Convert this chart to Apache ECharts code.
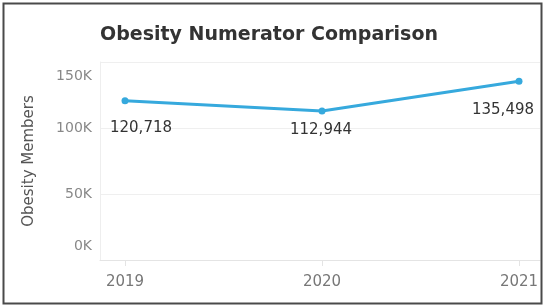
<!DOCTYPE html>
<html>
<head>
<meta charset="utf-8">
<script src="https://cdn.jsdelivr.net/npm/echarts@6/dist/echarts.min.js"></script>
<style>
  html, body { margin: 0; padding: 0; background: #fff; }
  #main { width: 544px; height: 307px; }
</style>
</head>
<body>
<div id="main"></div>
<script>
var years = [2019, 2020, 2021];
var members = [120718, 112944, 135498];
var yTicks = [0, 50000, 100000, 150000];
// label offsets per point, as in the reference
var labelOffsets = [[16, 27], [-1, 19], [-16, 29]];

var chart = echarts.init(document.getElementById('main'));

var seriesData = years.map(function (y, i) {
    return {
        value: [y, members[i]],
        label: { offset: labelOffsets[i] }
    };
});

var option = {
    animation: false,
    textStyle: { fontFamily: 'DejaVu Sans' },
    title: {
        text: 'Obesity Numerator Comparison',
        left: 264,
        top: 21,
        textAlign: 'center',
        textStyle: { fontSize: 19, fontWeight: 'bold', color: '#333', fontFamily: 'DejaVu Sans' }
    },
    graphic: [{
        type: 'rect',
        shape: { x: 3.5, y: 3.5, width: 538, height: 300 },
        style: { fill: 'none', stroke: '#4a4a4a', lineWidth: 2 },
        z: 100
    }],
    grid: { left: 100, right: 4, top: 62, bottom: 47 },
    xAxis: {
        type: 'value',
        min: 2019 - 25 / 197,
        max: 2021 + 21 / 197,
        axisLine: { show: true, onZero: false, lineStyle: { color: '#e4e4e4' } },
        axisTick: { show: true, length: 6, customValues: years, lineStyle: { color: '#e4e4e4' } },
        axisLabel: {
            customValues: years,
            color: '#777',
            fontSize: 15,
            margin: 15,
            formatter: function (v) { return String(v); }
        },
        splitLine: { show: false }
    },
    yAxis: {
        type: 'value',
        min: yTicks[0],
        max: yTicks[yTicks.length - 1],
        interval: 50000,
        name: 'Obesity Members',
        nameLocation: 'middle',
        nameGap: 63,
        nameRotate: 90,
        nameTextStyle: { color: '#555', fontSize: 15 },
        axisLine: { show: true, lineStyle: { color: '#eeeeee' } },
        axisTick: { show: false },
        axisLabel: {
            color: '#888',
            fontSize: 14,
            margin: 8,
            lineHeight: 28,
            verticalAlignMaxLabel: 'top',
            verticalAlignMinLabel: 'bottom',
            formatter: function (v) { return (v / 1000) + 'K'; }
        },
        splitLine: { lineStyle: { color: '#efefef' } }
    },
    series: [{
        type: 'line',
        data: seriesData,
        symbol: 'circle',
        symbolSize: 7,
        itemStyle: { color: '#36a9dd' },
        lineStyle: { color: '#36a9dd', width: 3 },
        label: {
            show: true,
            position: 'inside',
            color: '#333',
            fontSize: 15,
            formatter: function (p) { return p.value[1].toLocaleString('en-US'); }
        }
    }]
};
chart.setOption(option);
</script>
</body>
</html>
